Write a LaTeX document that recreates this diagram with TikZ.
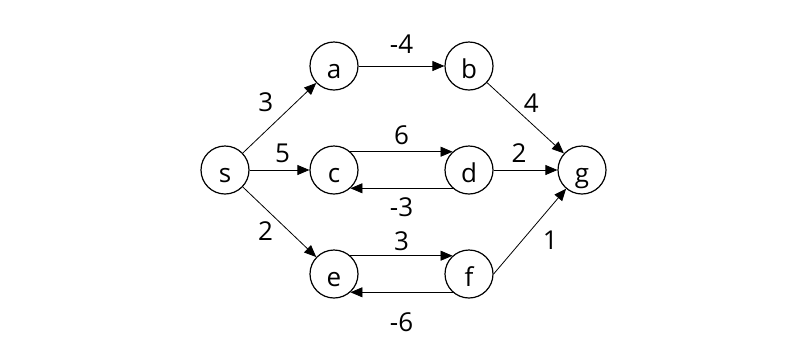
\documentclass[tikz,border=0pt]{standalone}
\usepackage{fontspec}
\setmainfont{Open Sans}
\usetikzlibrary{arrows.meta, positioning}
\tikzset{
  >=latex,
  % Vertici del grafo
  vertex/.style={circle,draw=black,line width=1.2pt,minimum size=48pt,inner sep=0pt,
    text height=24pt,text depth=0pt,font=\fontsize{26}{30}\selectfont},
  % Archi pesati
  connect arrow/.style={-{Triangle[length=12pt,width=10pt]},line width=0.8pt},
  weight/.style={font=\fontsize{26}{30}\selectfont,inner sep=1pt}
}

\begin{document}
\begin{tikzpicture}[x=1pt,y=-1pt]
    \useasboundingbox (0,0) rectangle (804,360);
    \node[vertex] (s) at (225,170) {s};
    \node[vertex] (a) at (334,66) {a};
    \node[vertex] (b) at (469,66) {b};
    \node[vertex] (c) at (334,170) {c};
    \node[vertex] (d) at (469,170) {d};
    \node[vertex] (g) at (582,170) {g};
    \node[vertex] (e) at (334,274) {e};
    \node[vertex] (f) at (469,274) {f};
    \draw[connect arrow] (s) -- (a) node[weight,midway,above left=7pt]{3};
    \draw[connect arrow] (s) -- (c) node[weight,pos=0.55,above=6pt]{5};
    \draw[connect arrow] (s) -- (e) node[weight,pos=0.45,below left=2pt]{2};
    \draw[connect arrow] (a) -- (b) node[weight,midway,above=11pt]{-4};
    \draw[connect arrow] (b) -- (g) node[weight,pos=0.45,above right=1pt]{4};
    \draw[connect arrow] (c.48) -- (d.132) node[weight,midway,above=6pt]{6};
    \draw[connect arrow] (d.-132) -- (c.-48) node[weight,midway,below=8pt]{-3};
    \draw[connect arrow] (d) -- (g) node[weight,pos=0.4,above=6pt]{2};
    \draw[connect arrow] (e.48) -- (f.132) node[weight,midway,above=4pt]{3};
    \draw[connect arrow] (f.-132) -- (e.-48) node[weight,midway,below=19pt]{-6};
    \draw[connect arrow] (f.east) -- (g) node[weight,pos=0.4,right=19pt]{1};
  \end{tikzpicture}
\end{document}
